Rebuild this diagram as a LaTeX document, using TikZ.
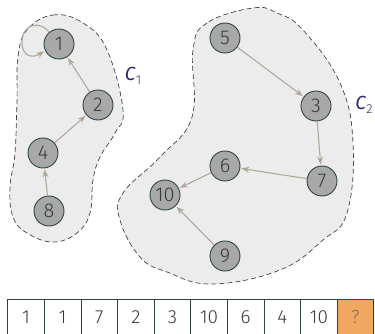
\documentclass[tikz,border=0pt]{standalone}
\usepackage{fontspec}
\setmainfont{Fira Sans}[UprightFont=* Light, ItalicFont=* Italic]
\usetikzlibrary{arrows.meta}
\definecolor{blobfill}{HTML}{ECECEC}
\definecolor{blobline}{HTML}{3A4848}
\definecolor{nodefill}{HTML}{A8A8A8}
\definecolor{nodeline}{HTML}{2E4444}
\definecolor{edgecol}{HTML}{B0A89C}
\definecolor{txtcol}{HTML}{333B3B}
\definecolor{labcol}{HTML}{2A2A70}
\definecolor{qfill}{HTML}{F0A860}
\definecolor{qtext}{HTML}{8A6A50}
\begin{document}
\begin{tikzpicture}[x=1pt,y=-1pt,
  vert/.style={circle,draw=nodeline,fill=nodefill,line width=0.9pt,minimum size=30pt,inner sep=0pt,text=txtcol,font=\fontsize{20}{20}\selectfont},
  arr/.style={draw=edgecol,line width=1.1pt,-{Stealth[length=8pt,width=6pt]},shorten >=1pt},
  blob/.style={draw=blobline,fill=blobfill,line width=0.7pt,dash pattern=on 5pt off 3pt},
  cell/.style={draw=nodeline,line width=0.8pt,minimum width=36.6pt,minimum height=40pt,anchor=north west,inner sep=0pt,text=txtcol,font=\fontsize{19}{19}\selectfont,text depth=0pt},
  clab/.style={text=labcol,font=\fontsize{19}{19}\selectfont}]
\useasboundingbox (0,0) rectangle (375,334);
\path[blob] plot[smooth cycle,tension=0.7] coordinates {(27,30)(53,15)(83,23)(107,50)(123,110)(115,133)(100,157)(93,180)(90,213)(77,233)(53,242)(27,233)(13,217)(10,187)(15,153)(17,100)(18,57)};
\path[blob] plot[smooth cycle,tension=0.7] coordinates {(253,8)(207,23)(193,50)(192,117)(160,157)(123,193)(120,220)(140,257)(167,272)(212,284)(280,270)(323,240)(347,213)(353,143)(340,83)(303,30)(277,13)};
\node[vert] (n1) at (59,44) {1};
\node[vert] (n2) at (98,105) {2};
\node[vert] (n4) at (43,153) {4};
\node[vert] (n8) at (49,211) {8};
\node[vert] (n5) at (225,38) {5};
\node[vert] (n3) at (316,106) {3};
\node[vert] (n7) at (322,181) {7};
\node[vert] (n6) at (225,166) {6};
\node[vert] (n10) at (165,195) {10};
\node[vert] (n9) at (225,256) {9};
\draw[arr] (n8) -- (n4);
\draw[arr] (n4) -- (n2);
\draw[arr] (n2) -- (n1);
\draw[arr] (n1.130) .. controls (40,20) and (22,24) .. (22,42) .. controls (22,58) and (34,58) .. (n1.205);
\draw[arr] (n5) -- (n3);
\draw[arr] (n3) -- (n7);
\draw[arr] (n7) -- (n6);
\draw[arr] (n6) -- (n10);
\draw[arr] (n9) -- (n10);
\node[clab] (c1) at (133,76) {\textit{C}\raisebox{-4pt}{\fontsize{13}{13}\selectfont 1}};
\node[clab] (c2) at (364,105) {\textit{C}\raisebox{-4pt}{\fontsize{13}{13}\selectfont 2}};
\foreach \v [count=\i from 0] in {1,1,7,2,3,10,6,4,10}{
  \node[cell] (a\i) at ({7.3+36.6*\i},299) {\raisebox{5pt}{\v}};
}
\node[cell,fill=qfill,text=qtext] (a9) at ({7.3+36.6*9},299) {\raisebox{5pt}{?}};
\end{tikzpicture}
\end{document}
